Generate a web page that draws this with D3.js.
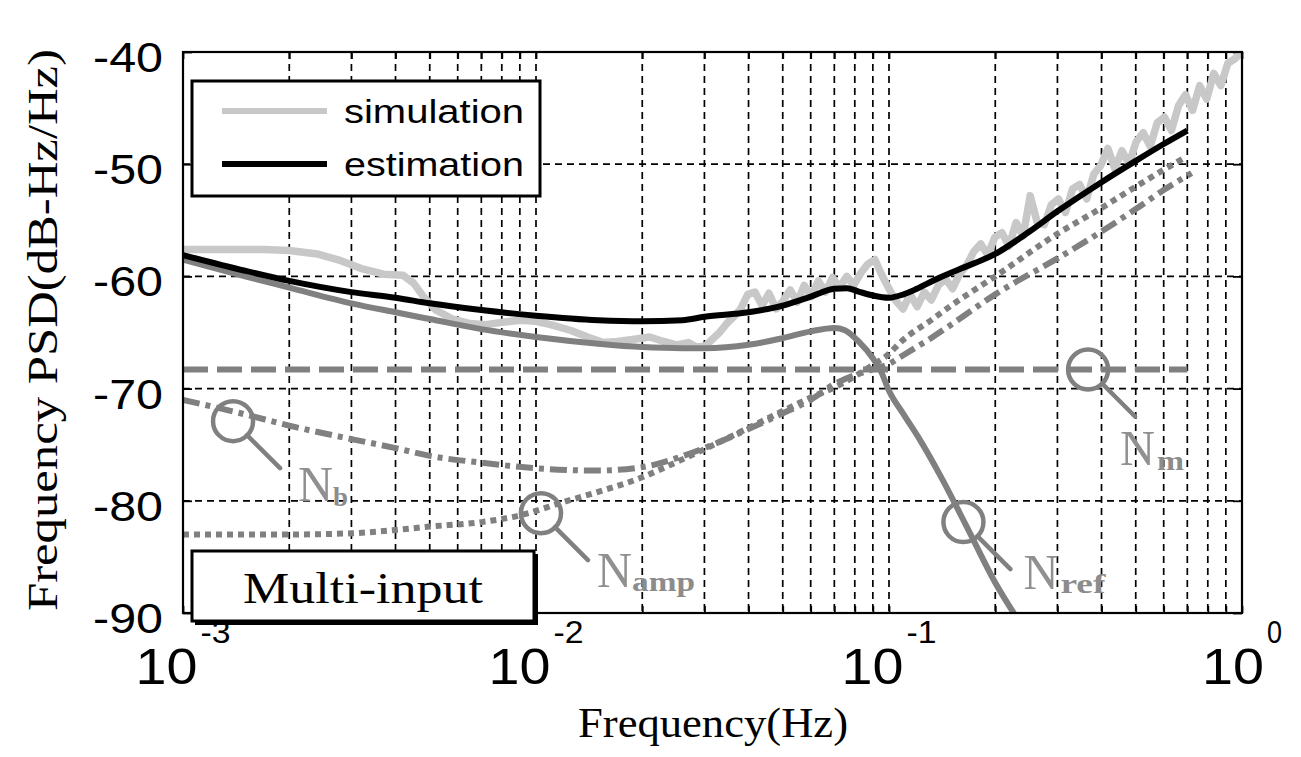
<!DOCTYPE html>
<html><head><meta charset="utf-8">
<script src="https://cdn.jsdelivr.net/npm/d3@7"></script>
<style>body{margin:0;background:#fff}</style>
</head><body>
<svg id="c" width="1301" height="757"></svg>
<script>
// ---------- data ----------
const xDecades = [1e-3, 1e-2, 1e-1, 1];
const xExponents = ["-3", "-2", "-1", "0"];
const yTicks = [-40, -50, -60, -70, -80, -90];
const legendLabels = ["simulation", "estimation"];
const boxLabel = "Multi-input";
const xTitle = "Frequency(Hz)";
const yTitle = "Frequency PSD(dB-Hz/Hz)";

// simulation (noisy)
const simFreq = [0.001,0.0013,0.0017,0.002,0.0024,0.0028,0.0032,0.0037,0.0042,0.0045,0.0048,0.0052,0.0058,0.0065,0.0072,0.008,0.009,0.01,0.011,0.0125,0.014,0.0155,0.017,0.019,0.021,0.023,0.025,0.027,0.0285,
0.0302,0.0316,0.0331,0.0347,0.0363,0.0380,0.0398,0.0417,0.0437,0.0457,0.0479,0.0501,0.0525,0.0550,0.0575,0.0603,0.0631,0.0661,0.0692,0.0724,0.0759,0.0794,0.0832,0.0871,0.0912,0.0955,0.1,0.1047,0.1096,0.1148,0.1202,0.1259,0.1318,0.1380,0.1445,0.1514,0.1585,0.1660,0.1738,0.1820,0.1905,0.1995,0.2089,0.2188,0.2291,0.2399,0.2512,0.2630,0.2754,0.2884,0.3020,0.3162,0.3311,0.3467,0.3631,0.3802,0.3981,0.4169,0.4365,0.4571,0.4786,0.5012,0.5248,0.5495,0.5754,0.6026,0.6310,0.6607,0.6918,0.7244,0.7586,0.7943,0.8318,0.8710,0.9120,0.9550,1.0];
const simPSD = [-57.6,-57.6,-57.6,-57.7,-58.0,-58.6,-59.3,-59.8,-59.9,-60.6,-61.8,-63.0,-63.8,-64.2,-64.3,-64.1,-63.9,-64.0,-64.3,-64.8,-65.4,-65.9,-65.8,-65.6,-65.4,-65.8,-66.1,-65.9,-66.3,
-66.2,-65.6,-65.0,-64.2,-63.6,-62.9,-61.6,-61.4,-62.6,-61.5,-62.9,-62.2,-61.2,-62.3,-60.8,-61.8,-60.4,-61.4,-60.1,-61.0,-60.0,-60.8,-59.7,-58.9,-58.5,-59.9,-61.1,-62.2,-62.9,-61.6,-62.7,-61.4,-62.1,-60.8,-60.2,-61.1,-59.8,-59.0,-57.8,-57.1,-58.1,-56.5,-56.1,-57.3,-55.2,-56.4,-52.8,-55.2,-55.4,-53.6,-53.1,-54.3,-52.2,-51.8,-53.1,-50.9,-50.1,-48.6,-50.4,-48.8,-50.0,-48.0,-47.2,-48.4,-46.3,-45.8,-47.0,-44.8,-43.8,-45.2,-43.0,-44.2,-41.9,-43.0,-41.0,-40.6,-40.0];

// estimation
const estFreq = [0.001,0.0015,0.002,0.003,0.004,0.005,0.007,0.01,0.015,0.02,0.026,0.03,0.04,0.05,0.06,0.07,0.076,0.082,0.09,0.1,0.11,0.12,0.135,0.16,0.2,0.25,0.3,0.4,0.5,0.6,0.7];
const estPSD  = [-58.1,-59.5,-60.4,-61.4,-61.9,-62.4,-63.0,-63.5,-63.9,-64.0,-63.9,-63.6,-63.2,-62.6,-61.8,-61.1,-61.05,-61.35,-61.7,-61.9,-61.6,-61.1,-60.3,-59.3,-58.0,-56.0,-54.2,-51.6,-49.7,-48.2,-47.0];

// N_ref
const refFreq = [0.001,0.0015,0.002,0.003,0.004,0.005,0.007,0.01,0.015,0.02,0.026,0.03,0.04,0.05,0.06,0.07,0.075,0.082,0.09,0.095,0.1,0.11,0.122,0.14,0.166,0.2,0.232];
const refPSD  = [-58.5,-60.0,-61.0,-62.4,-63.2,-63.8,-64.7,-65.4,-66.0,-66.3,-66.4,-66.4,-66.1,-65.5,-64.9,-64.6,-64.8,-65.8,-67.3,-68.5,-70.2,-72.3,-74.5,-77.8,-82.3,-87.3,-90.6];

// N_m
const mFreq = [0.001, 0.7];
const mPSD  = [-68.3, -68.3];

// N_b
const bFreq = [0.001,0.0015,0.002,0.003,0.004,0.005,0.007,0.01,0.015,0.02,0.025,0.03,0.04,0.05,0.06,0.07,0.08,0.09,0.1,0.11,0.133,0.15,0.2,0.3,0.4,0.5,0.6,0.72];
const bPSD  = [-71.0,-72.3,-73.3,-74.5,-75.3,-76.0,-76.6,-77.1,-77.3,-77.0,-76.2,-75.3,-73.6,-72.2,-71.0,-69.6,-68.8,-68.3,-67.8,-67.0,-65.4,-64.3,-61.6,-58.4,-56.0,-54.0,-52.3,-50.8];

// N_amp
const ampFreq = [0.001,0.002,0.003,0.004,0.005,0.007,0.009,0.012,0.015,0.02,0.024,0.03,0.04,0.05,0.06,0.07,0.08,0.09,0.1,0.1075,0.133,0.15,0.2,0.3,0.4,0.5,0.6,0.69];
const ampPSD  = [-83.0,-83.0,-82.9,-82.6,-82.3,-81.9,-81.3,-80.1,-79.2,-77.9,-76.8,-75.4,-73.5,-72.0,-70.8,-69.9,-68.9,-67.9,-66.9,-65.9,-63.8,-62.6,-60.0,-56.2,-53.9,-52.0,-50.5,-49.4];

// annotation markers (circle centres in data units)
const annoSub  = ["b", "amp", "m", "ref"];
const annoFreq = [0.001386, 0.01033, 0.3664, 0.1625];
const annoPSD  = [-72.9, -81.1, -68.3, -81.9];

// ---------- layout ----------
const L = 183, R = 1242, T = 52, B = 613;
const svg = d3.select("#c");
const x = d3.scaleLog().domain([1e-3, 1]).range([L, R]);
const y = d3.scaleLinear().domain([-90, -40]).range([B, T]);
const GREY = "#808080";

function text(g, s, xs, ys, size, fam, len, opt = {}) {
  const t = g.append("text").attr("x", xs).attr("y", ys)
    .attr("font-size", size).attr("font-family", fam)
    .attr("fill", opt.fill || "#000").text(s);
  if (opt.weight) t.attr("font-weight", opt.weight);
  if (len) t.attr("textLength", len).attr("lengthAdjust", "spacingAndGlyphs");
  return t;
}
const SANS = "'Liberation Sans', Arial, sans-serif";
const SERIF = "'Liberation Serif', 'Times New Roman', serif";

// ---------- grid ----------
const gridX = x.ticks().filter(d => d > 1e-3 * 1.001 && d < 0.999);
const grid = svg.append("g").attr("stroke", "#000").attr("stroke-width", 1.7).attr("stroke-dasharray", "7,5");
grid.selectAll("line.v").data(gridX).join("line")
  .attr("x1", d => x(d)).attr("x2", d => x(d)).attr("y1", T).attr("y2", B);
grid.selectAll("line.h").data(yTicks.filter(v => v > -90 && v < -40)).join("line")
  .attr("x1", L).attr("x2", R).attr("y1", d => y(d)).attr("y2", d => y(d));

const allX = x.ticks();
function styleAxis(g) { g.select(".domain").remove(); g.selectAll("line").attr("stroke-width", 1.8); }
svg.append("g").attr("transform", `translate(0,${B})`)
  .call(d3.axisBottom(x).tickValues(allX).tickSize(-7).tickFormat("")).call(styleAxis);
svg.append("g").attr("transform", `translate(0,${T})`)
  .call(d3.axisTop(x).tickValues(allX).tickSize(-7).tickFormat("")).call(styleAxis);
svg.append("g").attr("transform", `translate(${L},0)`)
  .call(d3.axisLeft(y).tickValues(yTicks).tickSize(-9).tickFormat("")).call(styleAxis);
svg.append("g").attr("transform", `translate(${R},0)`)
  .call(d3.axisRight(y).tickValues(yTicks).tickSize(-9).tickFormat("")).call(styleAxis);

// ---------- curves ----------
svg.append("clipPath").attr("id", "clip").append("rect")
  .attr("x", L).attr("y", T).attr("width", R - L).attr("height", B - T);
const plot = svg.append("g").attr("clip-path", "url(#clip)");

const zip = (fs, vs) => fs.map((f, i) => [f, vs[i]]);
const lineSmooth = d3.line().x(d => x(d[0])).y(d => y(d[1])).curve(d3.curveMonotoneX);
const lineRaw = d3.line().x(d => x(d[0])).y(d => y(d[1]));

function draw(data, gen, color, width, dash) {
  const p = plot.append("path").datum(data).attr("d", gen)
    .attr("fill", "none").attr("stroke", color).attr("stroke-width", width)
    .attr("stroke-linejoin", "round");
  if (dash) p.attr("stroke-dasharray", dash);
  return p;
}
draw(zip(simFreq, simPSD), lineRaw, "#c8c8c8", 7.5);
draw(zip(mFreq, mPSD), lineRaw, GREY, 6, "25,9");
draw(zip(bFreq, bPSD), lineSmooth, GREY, 6, "17,6,5,6");
draw(zip(ampFreq, ampPSD), lineSmooth, GREY, 6, "6,5");
draw(zip(refFreq, refPSD), lineSmooth, GREY, 6);
draw(zip(estFreq, estPSD), lineSmooth, "#000", 6);

svg.append("rect").attr("x", L).attr("y", T).attr("width", R - L).attr("height", B - T)
  .attr("fill", "none").attr("stroke", "#000").attr("stroke-width", 2.2);

// ---------- annotations ----------
const labelOff = [
  {n: [65, 80], s: [100, 85], w: 15},
  {n: [56, 74], s: [91, 78], w: 63},
  {n: [32, 95], s: [69, 100], w: 27},
  {n: [60, 67], s: [97, 71], w: 45}
];
const ann = svg.append("g");
annoSub.forEach((sub, i) => {
  const cx = x(annoFreq[i]), cy = y(annoPSD[i]);
  ann.append("circle").attr("cx", cx).attr("cy", cy).attr("r", 20)
    .attr("fill", "none").attr("stroke", GREY).attr("stroke-width", 4.5);
  ann.append("line").attr("x1", cx + 14).attr("y1", cy + 14).attr("x2", cx + 47).attr("y2", cy + 47)
    .attr("stroke", GREY).attr("stroke-width", 4.5).attr("stroke-linecap", "round");
  const o = labelOff[i];
  text(ann, "N", cx + o.n[0], cy + o.n[1], 50, SERIF, 35, {fill: "#909090"});
  text(ann, sub, cx + o.s[0], cy + o.s[1], 28, SERIF, o.w, {fill: "#8c8c8c", weight: "bold"});
});

// ---------- legend ----------
const lg = svg.append("g");
lg.append("rect").attr("x", 192).attr("y", 81).attr("width", 348).attr("height", 115)
  .attr("fill", "#fff").attr("stroke", "#000").attr("stroke-width", 3);
const legColors = ["#c8c8c8", "#000"];
legendLabels.forEach((s, i) => {
  const ly = 111 + i * 53;
  lg.append("line").attr("x1", 222).attr("x2", 327).attr("y1", ly).attr("y2", ly)
    .attr("stroke", legColors[i]).attr("stroke-width", 6);
  text(lg, s, 344, ly + 12, 34, SANS, 180);
});

// Multi-input box
const mb = svg.append("g");
mb.append("rect").attr("x", 195).attr("y", 554).attr("width", 343).attr("height", 71).attr("fill", "#000");
mb.append("rect").attr("x", 192).attr("y", 551).attr("width", 342).attr("height", 70)
  .attr("fill", "#fff").attr("stroke", "#000").attr("stroke-width", 3);
text(mb, boxLabel, 243, 603, 44, SERIF, 240);

// ---------- tick labels ----------
yTicks.forEach(v => text(svg, String(v), 93, y(v) + 20, 42, SANS, 70));
xDecades.forEach((d, i) => {
  const e = xExponents[i];
  const we = e.length * 15, total = 62 + 3 + we;
  const x0 = x(d) - total / 2;
  text(svg, "10", x0, 684, 50, SANS, 62);
  text(svg, e, x0 + 65, 643, 32, SANS, we);
});

text(svg, xTitle, 578, 737, 42, SERIF, 270);
svg.append("text").attr("transform", "translate(57,330) rotate(-90)")
  .attr("x", -281).attr("y", 0).attr("font-size", 42).attr("font-family", SERIF)
  .attr("textLength", 562).attr("lengthAdjust", "spacingAndGlyphs").text(yTitle);
</script>
</body></html>
